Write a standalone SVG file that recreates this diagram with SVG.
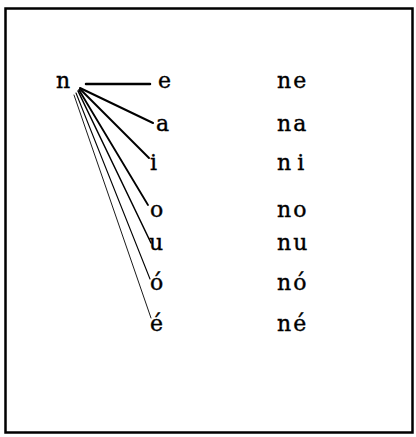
<svg xmlns="http://www.w3.org/2000/svg" width="416" height="437" viewBox="0 0 416 437">
<style>
text{font-family:"DejaVu Serif","Liberation Serif",serif;font-size:22px;letter-spacing:2px;fill:#000;stroke:#000;stroke-width:0.4}
.c line{stroke:#000;stroke-linecap:round}
</style>
<rect x="0" y="0" width="416" height="437" fill="#fff"/>
<rect id="frame" x="5.5" y="8.5" width="407" height="424" fill="none" stroke="#000" stroke-width="2.5"/>
<g id="n"><text x="56" y="88">n</text></g>
<g class="c" id="connectors">
<line x1="86" y1="84" x2="150" y2="84" stroke-width="2.5"/>
<line x1="80" y1="88" x2="153" y2="123" stroke-width="2"/>
<line x1="80" y1="89" x2="149" y2="158" stroke-width="2"/>
<line x1="79" y1="90" x2="148" y2="205" stroke-width="1.8"/>
<line x1="78" y1="91" x2="151" y2="243" stroke-width="1.5"/>
<line x1="76" y1="93" x2="150" y2="279" stroke-width="1.1"/>
<line x1="74" y1="95" x2="151" y2="318" stroke-width="0.9"/>
</g>
<g id="e"><text x="158" y="88">e</text></g>
<g id="a"><text x="156" y="131">a</text></g>
<g id="i"><text x="150" y="170">i</text></g>
<g id="o"><text x="150" y="217">o</text></g>
<g id="u"><text x="149" y="250">u</text></g>
<g id="o2"><text x="150" y="290">ó</text></g>
<g id="e2"><text x="150" y="331">é</text></g>
<g id="ne"><text x="277" y="88">ne</text></g>
<g id="na"><text x="277" y="131">na</text></g>
<g id="ni"><text x="277" y="170">n<tspan dx="4">i</tspan></text></g>
<g id="no"><text x="277" y="217">no</text></g>
<g id="nu"><text x="277" y="250">nu</text></g>
<g id="no2"><text x="277" y="290">nó</text></g>
<g id="ne2"><text x="277" y="331">né</text></g>
</svg>
